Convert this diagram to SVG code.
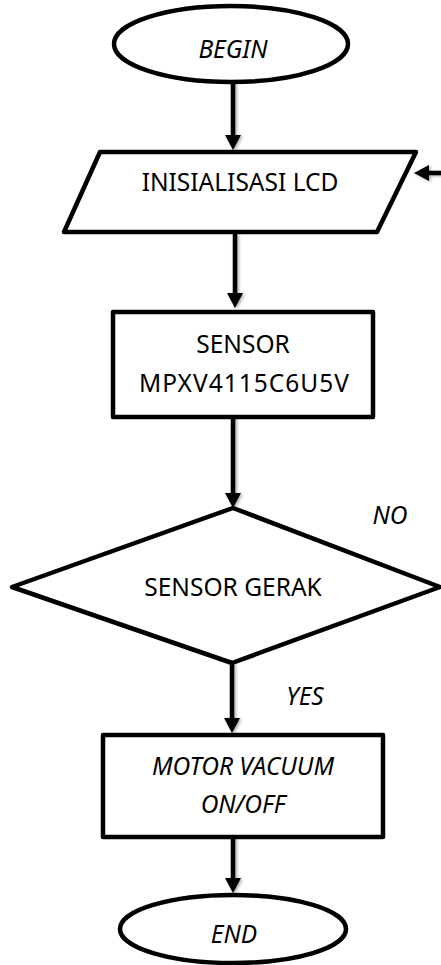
<svg xmlns="http://www.w3.org/2000/svg" width="441" height="965" viewBox="0 0 441 965">
  <style>
    .shape { fill: #ffffff; stroke: #000000; stroke-width: 4.5; stroke-linejoin: round; }
    .label { font-family: "Noto Sans", "Open Sans", sans-serif; font-size: 24.5px; fill: #000000; text-anchor: middle; }
    .it { font-style: italic; }
    .wire { fill: none; stroke: #000000; stroke-width: 4.5; }
  </style>
  <defs>
    <marker id="head" markerUnits="userSpaceOnUse" markerWidth="16" markerHeight="16" refX="0" refY="8" orient="auto" overflow="visible">
      <path d="M0,0 L15,8 L0,16 Z" fill="#000000"/>
    </marker>
    <filter id="soft" x="-50%" y="-10%" width="200%" height="120%">
      <feDropShadow dx="1.5" dy="1" stdDeviation="1.5" flood-color="#000000" flood-opacity="0.35"/>
    </filter>
  </defs>

  <!-- flow connectors -->
  <g id="connectors" filter="url(#soft)">
    <path class="wire" d="M233,82 V135" marker-end="url(#head)"/>
    <path class="wire" d="M441,173 H429" marker-end="url(#head)"/>
    <path class="wire" d="M235,234 V293" marker-end="url(#head)"/>
    <path class="wire" d="M233,417 V493" marker-end="url(#head)"/>
    <path class="wire" d="M232,663 V718" marker-end="url(#head)"/>
    <path class="wire" d="M233,837 V878" marker-end="url(#head)"/>
  </g>

  <!-- start terminal -->
  <g id="begin">
    <ellipse class="shape" cx="231" cy="44" rx="117" ry="38"/>
    <text class="label it" x="233" y="58">BEGIN</text>
  </g>

  <!-- LCD init (input/output) -->
  <g id="init-lcd">
    <polygon class="shape" points="100,152 416,152 377,232 64,232"/>
    <text class="label" x="240" y="191">INISIALISASI LCD</text>
  </g>

  <!-- pressure sensor -->
  <g id="sensor">
    <rect class="shape" x="113" y="312" width="260" height="105"/>
    <text class="label" x="243" y="353">SENSOR</text>
    <text class="label" x="244" y="392" textLength="210" lengthAdjust="spacing">MPXV4115C6U5V</text>
  </g>

  <!-- motion decision -->
  <g id="sensor-gerak">
    <polygon class="shape" points="233,508 440,587 232,663 12,587"/>
    <text class="label" x="233" y="596">SENSOR GERAK</text>
  </g>
  <text class="label it" x="390" y="524">NO</text>
  <text class="label it" x="305" y="705">YES</text>

  <!-- vacuum motor -->
  <g id="motor">
    <rect class="shape" x="103" y="735" width="280" height="102"/>
    <text class="label it" x="243" y="775">MOTOR VACUUM</text>
    <text class="label it" x="243" y="813">ON/OFF</text>
  </g>

  <!-- end terminal -->
  <g id="end">
    <ellipse class="shape" cx="233" cy="929" rx="113" ry="34"/>
    <text class="label it" x="234" y="943">END</text>
  </g>
</svg>
